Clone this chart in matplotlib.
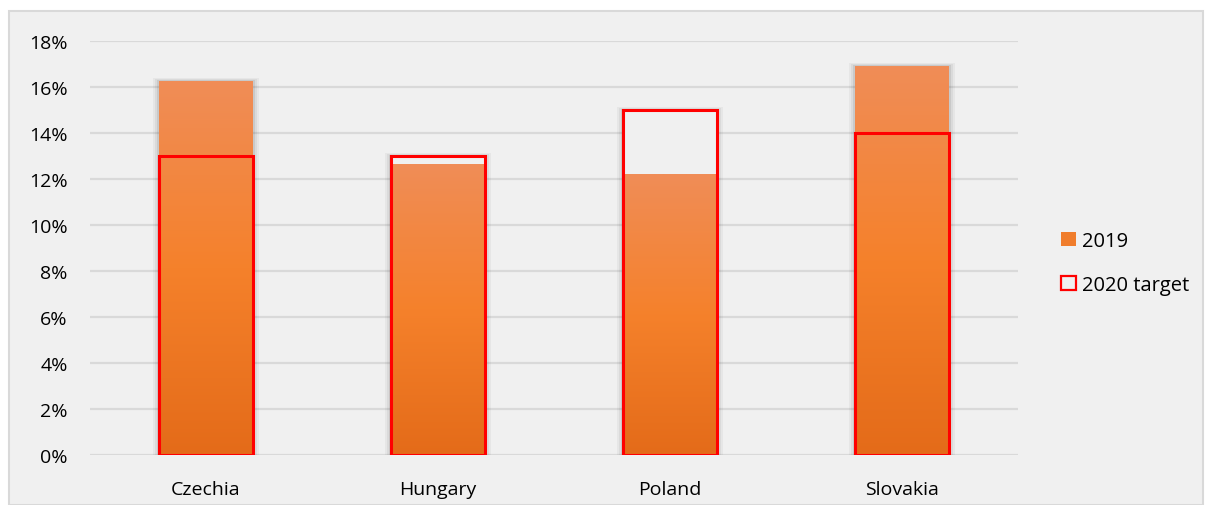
import matplotlib.pyplot as plt
import numpy as np
from matplotlib.colors import LinearSegmentedColormap
from matplotlib.patches import Rectangle, Patch
from matplotlib.ticker import PercentFormatter

countries = ['Czechia', 'Hungary', 'Poland', 'Slovakia']
share_2019 = [16.26, 12.65, 12.2, 16.9]
target_2020 = [13, 13, 15, 14]

bar_w = 0.405
panel_bg = '#f0f0f0'
grid_col = '#d9d9d9'

plt.rcParams['font.family'] = ['Open Sans', 'DejaVu Sans']

fig = plt.figure(figsize=(12.05, 5.06), dpi=100)
fig.patch.set_facecolor('white')
# grey chart area with thin border, kept behind the axes
panel = Rectangle((9 / 1205, 0), 1194 / 1205, 494 / 506, transform=fig.transFigure,
                  facecolor=panel_bg, edgecolor=grid_col, linewidth=1.5, zorder=-5)
fig.add_artist(panel)

ax = fig.add_axes([90 / 1205, 50 / 506, 928 / 1205, 414 / 506])
ax.set_facecolor('none')
ax.set_xlim(-0.5, len(countries) - 0.5)
ax.set_ylim(0, 18)
ax.set_yticks(np.arange(0, 19, 2))
ax.yaxis.set_major_formatter(PercentFormatter(decimals=0))
ax.set_xticks(range(len(countries)))
ax.set_xticklabels(countries)
ax.tick_params(length=0, labelsize=14, colors='black')
ax.tick_params(axis='y', pad=16)
ax.tick_params(axis='x', pad=18)
ax.grid(axis='y', color=grid_col, linewidth=1.6, zorder=0)
ax.set_axisbelow(True)
for s in ax.spines.values():
    s.set_visible(False)

grad = LinearSegmentedColormap.from_list('orange_grad', ['#e46b19', '#f5812b', '#f08d57'])

def soft_shadow(x0, h, w):
    for k, a in zip([0.05, 0.034, 0.018], [0.06, 0.08, 0.12]):
        ax.add_patch(Rectangle((x0 - k * 0.5, 0), w + k, h + k * 3, facecolor='#505050',
                               edgecolor='none', alpha=a, zorder=1))

for i, v in enumerate(share_2019):
    x0 = i - bar_w / 2
    top = max(v, target_2020[i])
    soft_shadow(x0, top, bar_w)
    # plain panel colour inside the bar outline so the shadow only shows around it
    ax.add_patch(Rectangle((x0, 0), bar_w, top, facecolor=panel_bg, edgecolor='none', zorder=1.5))
    rect = Rectangle((x0, 0), bar_w, v, facecolor='none', edgecolor='none', zorder=2)
    ax.add_patch(rect)
    img = ax.imshow(np.linspace(0, 1, 256).reshape(-1, 1), cmap=grad, origin='lower',
                    extent=[x0, x0 + bar_w, 0, v], aspect='auto', zorder=2)
    img.set_clip_path(rect)

for i, t in enumerate(target_2020):
    x0 = i - bar_w / 2
    ax.add_patch(Rectangle((x0, 0), bar_w, t, facecolor='none', edgecolor='#ff0000',
                           linewidth=2.2, zorder=3))

ax.set_xlim(-0.5, len(countries) - 0.5)
ax.set_ylim(0, 18)

handles = [Patch(facecolor='#f07d2c', edgecolor='none', label='2019'),
           Patch(facecolor='none', edgecolor='#ff0000', linewidth=1.6, label='2020 target')]
fig.legend(handles=handles, loc='center left', bbox_to_anchor=(1043 / 1205, 242 / 506),
           frameon=False, fontsize=14.5, handlelength=0.75, handleheight=0.75,
           handletextpad=0.3, labelspacing=1.2)

fig.savefig('out.png', dpi=100)
